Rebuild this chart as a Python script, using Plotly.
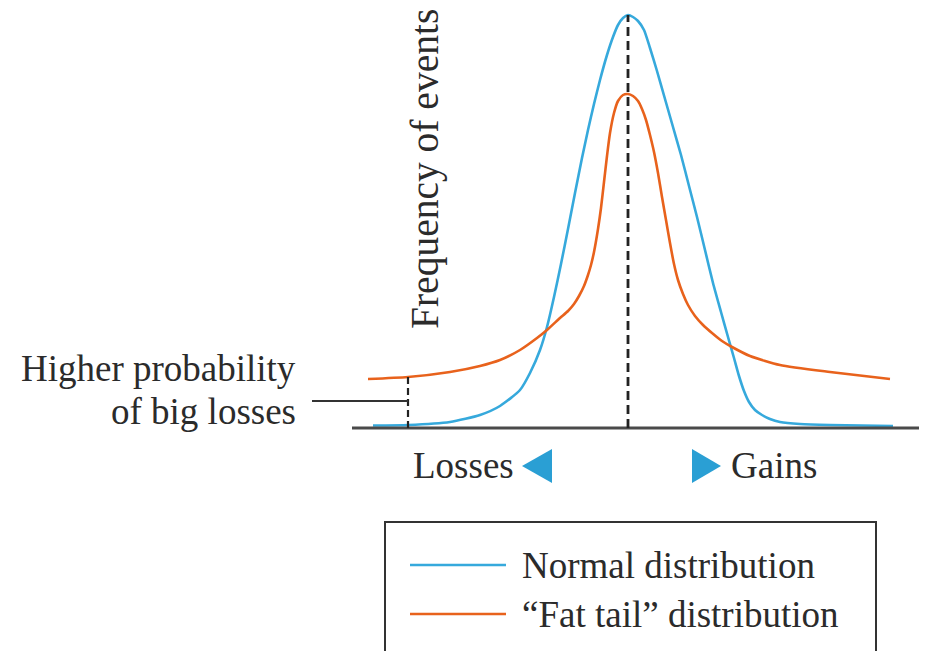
import plotly.graph_objects as go

# Outcome positions (arbitrary units, left = losses, right = gains) and frequencies (height above baseline)
normal_x = [373, 408, 450, 480, 500, 520, 530, 540, 547, 554, 561, 568, 575, 582, 588, 594, 600, 607,
            613, 618, 623, 628, 633, 638, 644, 650, 657, 665, 673, 681, 689, 697, 705, 713, 721, 728,
            734, 739, 744, 749, 755, 762, 770, 780, 800, 830, 893]
normal_y = [2.5, 3, 6, 13, 22, 38, 55, 78, 101, 131, 164, 199, 235, 270, 298, 324, 348, 373,
            391, 403, 410, 413, 411, 407, 398, 380, 357, 329, 301, 273, 242, 211, 178, 145, 116, 91,
            70, 52, 37, 26, 18, 13, 9, 6, 4, 3, 2]

fat_x = [368, 408, 450, 480, 500, 520, 537, 547, 560, 568, 574, 579, 584, 588, 591, 594, 598, 601, 604,
         607, 610, 614, 618, 623, 628, 633, 638, 642, 646, 650, 654, 658, 662, 666, 670, 674, 678,
         683, 688, 695, 703, 712, 722, 732, 750, 780, 830, 890]
fat_y = [49, 51, 56, 62, 68, 78, 90, 98, 110, 117, 124, 132, 142, 153, 163, 176, 199, 220, 246,
         272, 295, 315, 327, 333, 334, 332, 327, 319, 308, 293, 276, 255, 231, 208, 185, 164, 148,
         134, 123, 112, 103, 95, 87, 81, 72, 63, 56, 49]

peak_x = 628
tail_x = 408
tail_y = 51

series_names = ["Normal distribution", "\u201cFat tail\u201d distribution"]
blue = "#36a9dc"
orange = "#e8621c"
tri = "#2a9fd4"
ink = "#2b2b2b"
serif = "Liberation Serif, Times New Roman, serif"

fig = go.Figure()
fig.add_trace(go.Scatter(x=normal_x, y=normal_y, mode="lines", name=series_names[0],
                         line=dict(color=blue, width=2.6, shape="spline", smoothing=0.6),
                         showlegend=False))
fig.add_trace(go.Scatter(x=fat_x, y=fat_y, mode="lines", name=series_names[1],
                         line=dict(color=orange, width=2.6, shape="spline", smoothing=0.6),
                         showlegend=False))

shapes = []
# baseline
shapes.append(dict(type="line", x0=352, x1=925, y0=0, y1=0, line=dict(color="#4a4a4a", width=3)))
# center dashed line
shapes.append(dict(type="line", x0=peak_x, x1=peak_x, y0=0, y1=max(normal_y),
                   line=dict(color="#222", width=2.8, dash="9px,5px")))
# tail dashed line
shapes.append(dict(type="line", x0=tail_x, x1=tail_x, y0=0, y1=tail_y,
                   line=dict(color="#222", width=2.2, dash="7px,4px")))
# leader line
shapes.append(dict(type="line", x0=312, x1=tail_x, y0=27, y1=27, line=dict(color="#333", width=2)))
# triangles
shapes.append(dict(type="path", path="M 522 -38 L 552 -21 L 552 -55 Z", fillcolor=tri, line=dict(width=0)))
shapes.append(dict(type="path", path="M 721 -38 L 692 -21 L 692 -55 Z", fillcolor=tri, line=dict(width=0)))
# legend box
shapes.append(dict(type="rect", x0=385, x1=876, y0=-94, y1=-250, line=dict(color="#333", width=2)))
# legend samples
shapes.append(dict(type="line", x0=410, x1=506, y0=-137, y1=-137, line=dict(color=blue, width=2.6)))
shapes.append(dict(type="line", x0=410, x1=506, y0=-186, y1=-186, line=dict(color=orange, width=2.6)))

ann = []
def txt(x, y, s, xa="left", size=37, angle=0):
    ann.append(dict(x=x, y=y, text=s, showarrow=False, xanchor=xa, yanchor="middle",
                    textangle=angle, font=dict(family=serif, size=size, color=ink)))

txt(425, 259, "Frequency of events", xa="center", size=39.5, angle=-90)
txt(298, 60, "Higher probability", xa="right")
txt(298, 17, "of big losses", xa="right")
txt(411, -37, "Losses")
txt(729, -37, "Gains")
txt(520, -137, series_names[0])
txt(520, -186, series_names[1])

fig.update_layout(
    width=927, height=651,
    margin=dict(l=0, r=0, t=0, b=0),
    paper_bgcolor="white", plot_bgcolor="white",
    xaxis=dict(range=[8, 935], visible=False, fixedrange=True),
    yaxis=dict(range=[-231, 420], visible=False, fixedrange=True),
    shapes=shapes, annotations=ann, showlegend=False,
)
fig.write_html("out.html")
